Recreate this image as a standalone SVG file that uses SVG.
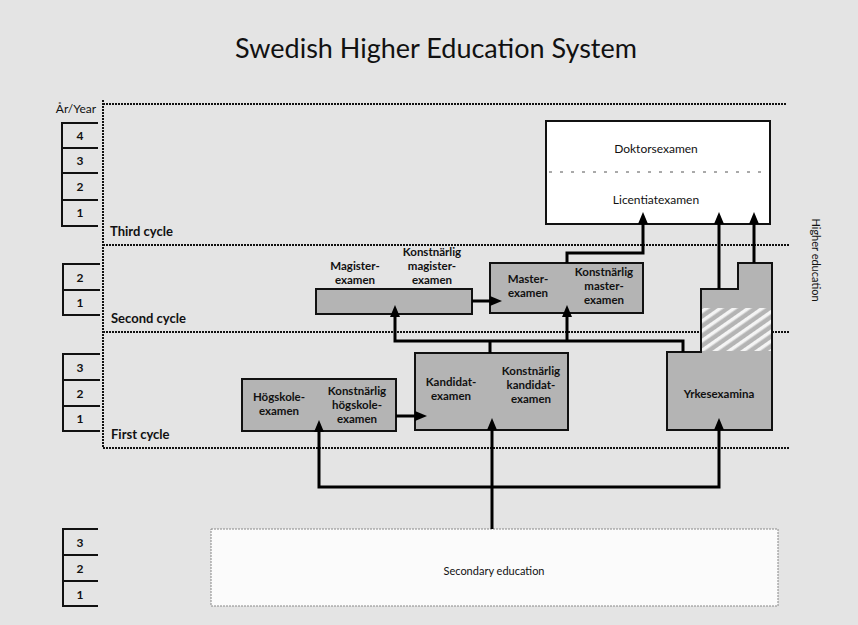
<svg xmlns="http://www.w3.org/2000/svg" width="858" height="625" viewBox="0 0 858 625">
<style>
text{font-family:Lato,"Open Sans","Liberation Sans",sans-serif;fill:#111}
.title{font-size:27px}
.yr{font-size:12px;font-weight:bold;text-anchor:middle}
.cyc{font-size:13px;font-weight:bold}
.lbl{font-size:11.5px;font-weight:bold;text-anchor:middle}
.lbn{font-size:12px;text-anchor:middle}
.box{fill:#b4b4b4;stroke:#111;stroke-width:2}
.wbox{fill:#ffffff;stroke:#111;stroke-width:2}
.yl{fill:none;stroke:#111;stroke-width:2}
.dot{stroke:#111;stroke-width:2;stroke-dasharray:2 1;fill:none}
.conn path{fill:none;stroke:#000;stroke-width:3}
</style>
<defs>
<marker id="ah" viewBox="0 0 12 10" refX="4" refY="5" markerWidth="12" markerHeight="10" markerUnits="userSpaceOnUse" orient="auto">
<path d="M0,0 L12,5 L0,10 z" fill="#000"/>
</marker>
<pattern id="hatch" width="8" height="8" patternUnits="userSpaceOnUse" patternTransform="rotate(-35)">
<rect width="8" height="8" fill="#b4b4b4"/>
<rect width="8" height="3.5" fill="#f4f4f4"/>
</pattern>
</defs>
<rect width="858" height="625" fill="#e4e4e4"/>
<text class="title" x="436" y="58" text-anchor="middle">Swedish Higher Education System</text>

<g id="grid">
<line class="dot" x1="103" y1="100" x2="103" y2="448"/>
<line class="dot" x1="103" y1="104" x2="787" y2="104"/>
<line class="dot" x1="103" y1="245" x2="790" y2="245"/>
<line class="dot" x1="103" y1="332" x2="790" y2="332"/>
<line class="dot" x1="103" y1="448" x2="790" y2="448"/>
<text class="cyc" x="110" y="236">Third cycle</text>
<text class="cyc" x="111" y="323">Second cycle</text>
<text class="cyc" x="111" y="439">First cycle</text>
<text x="812" y="260" font-size="11" text-anchor="middle" transform="rotate(90 812 260)">Higher education</text>
</g>

<g id="years">
<text x="76" y="113" font-size="12" text-anchor="middle">År/Year</text>
<path class="yl" d="M98,123 H62 V226 H98 M62,148 H98 M62,173 H98 M62,200 H98"/>
<text class="yr" x="80" y="140">4</text>
<text class="yr" x="80" y="165">3</text>
<text class="yr" x="80" y="191">2</text>
<text class="yr" x="80" y="217">1</text>
<path class="yl" d="M100,264 H63 V315 H100 M63,290 H100"/>
<text class="yr" x="80" y="282">2</text>
<text class="yr" x="80" y="307">1</text>
<path class="yl" d="M100,354 H63 V431 H100 M63,380 H100 M63,406 H100"/>
<text class="yr" x="80" y="372">3</text>
<text class="yr" x="80" y="398">2</text>
<text class="yr" x="80" y="423">1</text>
<path class="yl" d="M98,529 H63 V606 H98 M63,555 H98 M63,581 H98"/>
<text class="yr" x="80" y="547">3</text>
<text class="yr" x="80" y="573">2</text>
<text class="yr" x="80" y="599">1</text>
</g>

<g id="doktor">
<rect class="wbox" x="546" y="121" width="224" height="103"/>
<line x1="549" y1="172" x2="767" y2="172" stroke="#555" stroke-width="1" stroke-dasharray="3 8"/>
<text class="lbn" x="656" y="153">Doktorsexamen</text>
<text class="lbn" x="656" y="204">Licentiatexamen</text>
</g>

<g id="magister">
<rect class="box" x="316" y="289" width="156" height="25"/>
<text class="lbl" x="355" y="270">Magister-</text>
<text class="lbl" x="355" y="284">examen</text>
<text class="lbl" x="432" y="256">Konstnärlig</text>
<text class="lbl" x="432" y="270">magister-</text>
<text class="lbl" x="432" y="284">examen</text>
</g>

<g id="master">
<rect class="box" x="490" y="263" width="153" height="50"/>
<text class="lbl" x="528" y="283">Master-</text>
<text class="lbl" x="528" y="297">examen</text>
<text class="lbl" x="604" y="276">Konstnärlig</text>
<text class="lbl" x="604" y="290">master-</text>
<text class="lbl" x="604" y="304">examen</text>
</g>

<g id="hogskole">
<rect class="box" x="242" y="379" width="154" height="52"/>
<text class="lbl" x="279" y="401">Högskole-</text>
<text class="lbl" x="279" y="415">examen</text>
<text class="lbl" x="357" y="395">Konstnärlig</text>
<text class="lbl" x="357" y="409">högskole-</text>
<text class="lbl" x="357" y="423">examen</text>
</g>

<g id="kandidat">
<rect class="box" x="415" y="353" width="153" height="77"/>
<text class="lbl" x="451" y="386">Kandidat-</text>
<text class="lbl" x="451" y="400">examen</text>
<text class="lbl" x="531" y="375">Konstnärlig</text>
<text class="lbl" x="531" y="389">kandidat-</text>
<text class="lbl" x="531" y="403">examen</text>
</g>

<g id="yrkes">
<path class="box" d="M667,352 H701 V289 H738 V263 H772 V430 H667 Z"/>
<rect x="702" y="308" width="69" height="43" fill="url(#hatch)"/>
<text class="lbl" x="719" y="398">Yrkesexamina</text>
</g>

<g id="secondary">
<rect x="211" y="529" width="567" height="77" fill="#fbfbfb" stroke="#888" stroke-width="1" stroke-dasharray="2 1"/>
<text x="494" y="575" font-size="11" text-anchor="middle" fill="#333">Secondary education</text>
</g>

<g class="conn" id="connectors">
<path d="M492,529 V426" marker-end="url(#ah)"/>
<path d="M492,487 H319 V428" marker-end="url(#ah)"/>
<path d="M492,487 H719 V426" marker-end="url(#ah)"/>
<path d="M396,416 H419" marker-end="url(#ah)"/>
<path d="M490,353 V341"/>
<path d="M683,352 V341 H395 V313" marker-end="url(#ah)"/>
<path d="M567,341 V313" marker-end="url(#ah)"/>
<path d="M472,301 H494" marker-end="url(#ah)"/>
<path d="M567,263 V253 H643 V220" marker-end="url(#ah)"/>
<path d="M719,289 V220" marker-end="url(#ah)"/>
<path d="M754,263 V220" marker-end="url(#ah)"/>
</g>
</svg>
